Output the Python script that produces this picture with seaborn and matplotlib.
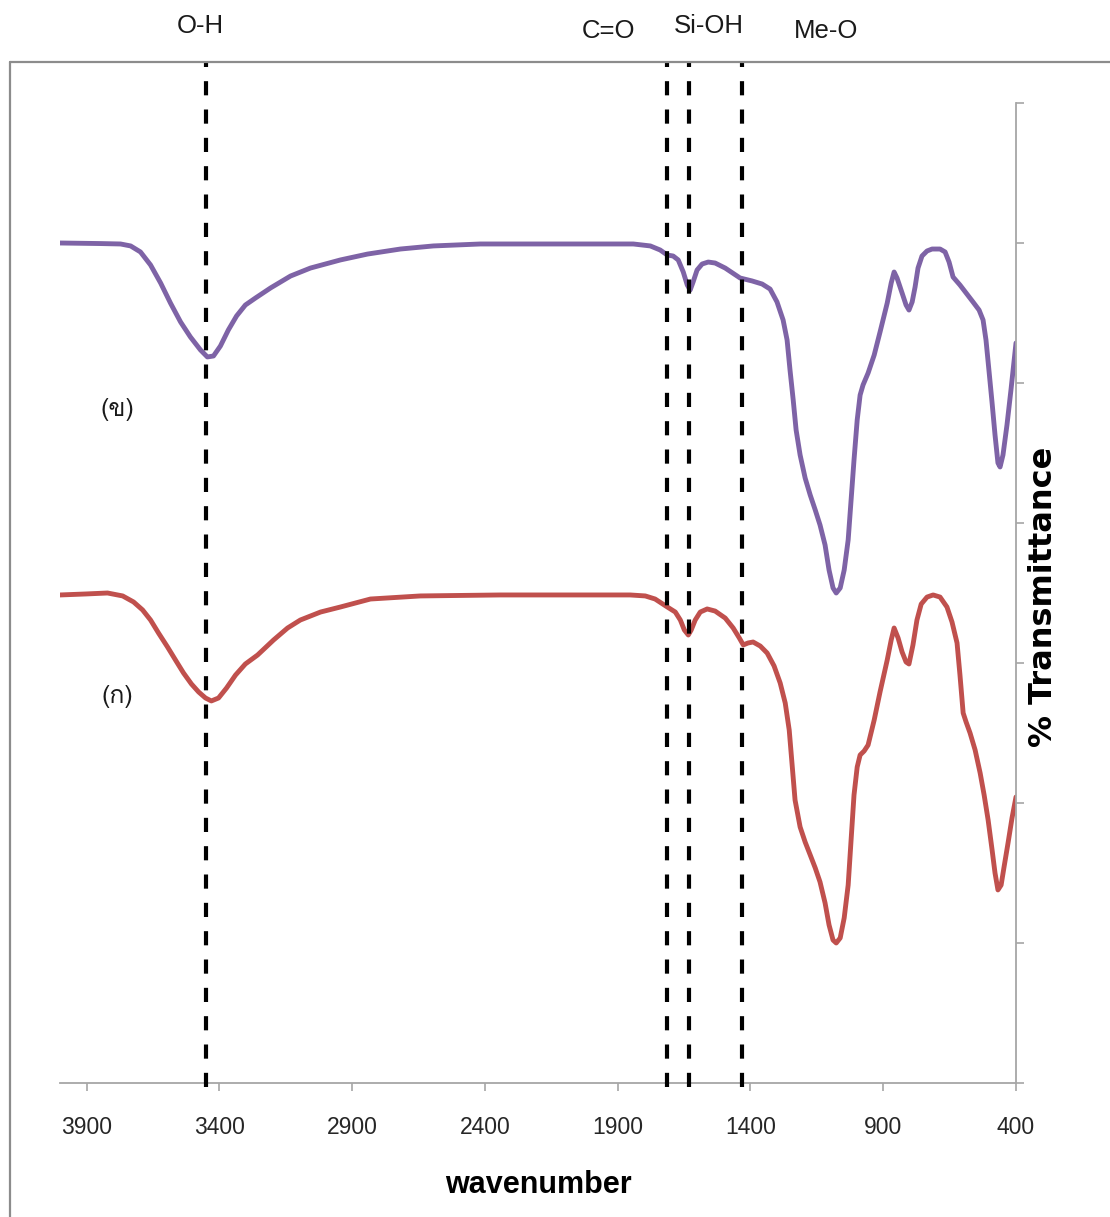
import numpy as np
import pandas as pd
import seaborn as sns
import matplotlib
matplotlib.use("Agg")
import matplotlib.pyplot as plt
from matplotlib.lines import Line2D
from matplotlib import font_manager

# ---------------- data ----------------
wn_b = [4000, 3847, 3772, 3734, 3697, 3659, 3621, 3584, 3546, 3509, 3471, 3445,
        3422, 3396, 3366, 3335, 3302, 3264, 3207, 3132, 3057, 2944, 2842, 2718,
        2594, 2417, 2154, 1841, 1777, 1740, 1713, 1691, 1672, 1653, 1638, 1627,
        1616, 1601, 1582, 1559, 1533, 1495, 1439, 1394, 1356, 1326, 1300, 1277,
        1262, 1251, 1239, 1228, 1213, 1194, 1175, 1156, 1138, 1119, 1104, 1089,
        1077, 1062, 1047, 1032, 1021, 1010, 998, 987, 976, 957, 934, 912, 885,
        870, 859, 848, 829, 814, 803, 791, 780, 769, 754, 735, 716, 686, 667,
        652, 637, 611, 562, 539, 524, 513, 502, 490, 479, 468, 460, 449, 434,
        419, 400]
t_b = [6.000, 5.996, 5.993, 5.979, 5.936, 5.843, 5.714, 5.571, 5.436, 5.329,
       5.236, 5.186, 5.193, 5.264, 5.379, 5.479, 5.557, 5.607, 5.679, 5.764,
       5.821, 5.879, 5.921, 5.957, 5.979, 5.993, 5.993, 5.993, 5.979, 5.950,
       5.914, 5.907, 5.879, 5.793, 5.700, 5.664, 5.721, 5.807, 5.850, 5.864,
       5.857, 5.821, 5.750, 5.729, 5.707, 5.671, 5.579, 5.450, 5.307, 5.093,
       4.879, 4.664, 4.486, 4.321, 4.200, 4.093, 3.986, 3.843, 3.664, 3.536,
       3.500, 3.536, 3.664, 3.879, 4.164, 4.450, 4.736, 4.914, 4.986, 5.071,
       5.200, 5.364, 5.571, 5.714, 5.793, 5.750, 5.643, 5.557, 5.521, 5.579,
       5.686, 5.821, 5.907, 5.943, 5.957, 5.957, 5.936, 5.864, 5.757, 5.700,
       5.579, 5.521, 5.450, 5.307, 5.093, 4.857, 4.629, 4.429, 4.400, 4.486,
       4.700, 4.950, 5.286]

wn_a = [4000, 3904, 3821, 3764, 3723, 3689, 3659, 3629, 3595, 3565, 3535, 3505,
        3478, 3452, 3430, 3403, 3373, 3339, 3302, 3256, 3196, 3143, 3095, 3019,
        2944, 2831, 2643, 2342, 1853, 1796, 1759, 1713, 1683, 1664, 1649, 1634,
        1623, 1608, 1589, 1563, 1533, 1495, 1465, 1442, 1427, 1409, 1390, 1363,
        1337, 1311, 1288, 1269, 1254, 1243, 1232, 1213, 1194, 1175, 1156, 1138,
        1119, 1104, 1089, 1077, 1062, 1047, 1032, 1021, 1010, 998, 987, 972, 957,
        934, 912, 885, 870, 859, 844, 829, 814, 803, 788, 773, 757, 735, 712,
        686, 660, 641, 622, 611, 599, 588, 573, 554, 535, 520, 505, 490, 479,
        468, 456, 445, 430, 415, 400]
t_a = [3.486, 3.493, 3.500, 3.479, 3.436, 3.379, 3.307, 3.214, 3.114, 3.021,
       2.929, 2.850, 2.793, 2.750, 2.729, 2.750, 2.821, 2.914, 2.993, 3.057,
       3.164, 3.250, 3.307, 3.364, 3.400, 3.457, 3.479, 3.486, 3.486, 3.479,
       3.457, 3.400, 3.364, 3.307, 3.236, 3.200, 3.236, 3.307, 3.364, 3.386,
       3.371, 3.321, 3.250, 3.179, 3.129, 3.143, 3.150, 3.121, 3.071, 2.979,
       2.857, 2.714, 2.521, 2.271, 2.021, 1.829, 1.721, 1.629, 1.536, 1.436,
       1.286, 1.129, 1.021, 1.000, 1.036, 1.179, 1.414, 1.736, 2.057, 2.257,
       2.343, 2.371, 2.414, 2.593, 2.793, 3.021, 3.164, 3.250, 3.179, 3.079,
       3.007, 2.993, 3.129, 3.307, 3.421, 3.471, 3.486, 3.471, 3.400, 3.293,
       3.143, 2.914, 2.643, 2.579, 2.500, 2.379, 2.214, 2.057, 1.879, 1.664,
       1.500, 1.379, 1.414, 1.543, 1.714, 1.893, 2.043]

band_positions = [3450, 1714, 1632, 1430]
band_labels = ["O-H", "C=O", "Si-OH", "Me-O"]
band_label_x = [3471, 1935, 1556, 1115]
band_label_y = [7.55, 7.515, 7.55, 7.515]

x_ticks = [3900, 3400, 2900, 2400, 1900, 1400, 900, 400]
sample_labels = ["(ข)", "(ก)"]
sample_label_pos = [(3783, 4.81), (3783, 2.76)]

colors = {"(ข)": "#7E63A6", "(ก)": "#C0504D"}

# ---------------- fonts ----------------
def find_thai_family():
    try:
        from fontTools.ttLib import TTFont
    except Exception:
        return None
    for f in font_manager.fontManager.ttflist:
        try:
            tt = TTFont(f.fname, fontNumber=0, lazy=True)
            cmap = tt.getBestCmap()
            if cmap and 0x0E01 in cmap and 0x0E02 in cmap:
                return f.name
        except Exception:
            continue
    return None

sns.set_style("white")
plt.rcParams["font.family"] = ["Liberation Sans", "DejaVu Sans"]
thai_family = find_thai_family()
thai_fams = ([thai_family] if thai_family else []) + ["Liberation Sans", "DejaVu Sans"]
narrow = ["Liberation Sans Narrow", "Liberation Sans", "DejaVu Sans"]

df = pd.concat([
    pd.DataFrame({"wavenumber": wn_b, "T": t_b, "sample": "(ข)"}),
    pd.DataFrame({"wavenumber": wn_a, "T": t_a, "sample": "(ก)"}),
], ignore_index=True)

W, H = 1110, 1217
fig = plt.figure(figsize=(W / 100, H / 100), dpi=100)
ax = fig.add_axes([60 / W, (H - 1083) / H, (1016 - 60) / W, (1083 - 62) / H])

for name in ["(ข)", "(ก)"]:
    sub = df[df["sample"] == name]
    sns.lineplot(data=sub, x="wavenumber", y="T", ax=ax, color=colors[name],
                 lw=3.5, estimator=None, sort=True, legend=False,
                 solid_joinstyle="round", solid_capstyle="round")

ax.set_xlim(4000, 400)
ax.set_ylim(0, (1083 - 62) / 140)

for xv in band_positions:
    ax.axvline(xv, ymin=-0.004, ymax=1.0, color="black", lw=3.0,
               dashes=(3.4, 3.4), clip_on=False, zorder=5)

for lab, lx, ly in zip(band_labels, band_label_x, band_label_y):
    ax.text(lx, ly, lab, ha="center", va="center", fontsize=18.5,
            color="#1a1a1a", clip_on=False)

for lab, (lx, ly) in zip(sample_labels, sample_label_pos):
    ax.text(lx, ly, lab, ha="center", va="center", fontsize=18,
            color="#1a1a1a", family=thai_fams)

# spines / ticks
spine_col = "#a6a6a6"
ax.spines["top"].set_visible(False)
ax.spines["left"].set_visible(False)
ax.spines["right"].set_visible(True)
ax.spines["right"].set_bounds(0, 7)
for s in ["right", "bottom"]:
    ax.spines[s].set_color(spine_col)
    ax.spines[s].set_linewidth(1.3)

ax.yaxis.tick_right()
ax.set_yticks(range(0, 8))
ax.set_yticklabels([])
ax.tick_params(axis="y", which="both", right=True, left=False, direction="out",
               length=6, width=1.2, color=spine_col)
ax.set_xticks(x_ticks)
ax.set_xticklabels([str(v) for v in x_ticks], family=narrow, fontsize=16.5,
                   color="#262626")
ax.tick_params(axis="x", direction="out", length=6, width=1.2, color=spine_col,
               pad=18, bottom=True)
ax.set_ylabel("")
ax.set_xlabel("wavenumber", family=narrow, fontsize=22, fontweight="bold",
              color="black", labelpad=22)

fig.text(1043 / W, (H - 597) / H, "% Transmittance", rotation=90, ha="center",
         va="center", fontsize=23, fontweight="bold", family="DejaVu Sans",
         color="black")

# outer chart border (top and left edges)
bc = "#8c8c8c"
fig.add_artist(Line2D([10 / W, 1.0], [(H - 62) / H, (H - 62) / H],
                      transform=fig.transFigure, color=bc, lw=1.6))
fig.add_artist(Line2D([10 / W, 10 / W], [0, (H - 62) / H],
                      transform=fig.transFigure, color=bc, lw=1.6))

fig.savefig("out.png", dpi=100)
